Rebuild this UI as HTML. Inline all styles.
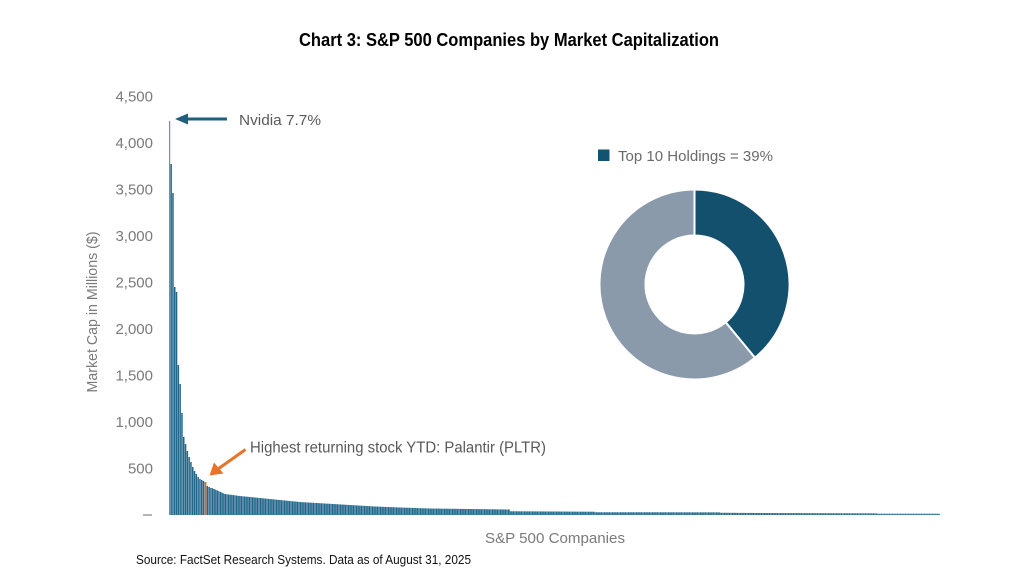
<!DOCTYPE html>
<html>
<head>
<meta charset="utf-8">
<style>
  html, body { margin:0; padding:0; background:#ffffff; }
  body { width:1024px; height:585px; overflow:hidden; }
  svg { display:block; }
  text { font-family: "Liberation Sans", "DejaVu Sans", sans-serif; }
</style>
</head>
<body>
<svg width="1024" height="585" viewBox="0 0 1024 585" xmlns="http://www.w3.org/2000/svg">
  <defs>
    <pattern id="stripes" patternUnits="userSpaceOnUse" x="212" y="0" width="1.6" height="10">
      <rect x="0" y="0" width="1.6" height="10" fill="#9fc2d4"/>
      <rect x="0" y="0" width="1.2" height="10" fill="#22668a"/>
    </pattern>
  </defs>

  <!-- Title -->
  <text x="299" y="46" font-size="18" font-weight="bold" fill="#000" textLength="420" lengthAdjust="spacingAndGlyphs">Chart 3: S&amp;P 500 Companies by Market Capitalization</text>

  <!-- Y tick labels -->
  <g font-size="15" fill="#7a7a7a" text-anchor="end">
    <text x="153" y="101.5">4,500</text>
    <text x="153" y="148">4,000</text>
    <text x="153" y="194.5">3,500</text>
    <text x="153" y="241">3,000</text>
    <text x="153" y="287.5">2,500</text>
    <text x="153" y="334">2,000</text>
    <text x="153" y="380.5">1,500</text>
    <text x="153" y="427">1,000</text>
    <text x="153" y="473.5">500</text>
  </g>
  <line x1="143" y1="515" x2="152" y2="515" stroke="#8a8a8a" stroke-width="1.3"/>

  <!-- Y axis title -->
  <text transform="translate(97,312) rotate(-90)" font-size="14.5" fill="#7a7a7a" text-anchor="middle" textLength="161" lengthAdjust="spacingAndGlyphs">Market Cap in Millions ($)</text>

  <!-- Leading bars -->
  <g fill="#22668a">
    <rect x="169" y="121" width="1.2" height="394" fill="#5f98b5"/>
    <rect x="170.4" y="164" width="1.5" height="351"/>
    <rect x="172.2" y="193" width="1.5" height="322"/>
    <rect x="174.0" y="287" width="1.5" height="228"/>
    <rect x="175.8" y="292" width="1.5" height="223"/>
    <rect x="177.6" y="365" width="1.5" height="150"/>
    <rect x="179.4" y="384" width="1.5" height="131"/>
    <rect x="181.2" y="413" width="1.5" height="102"/>
    <rect x="183.0" y="437" width="1.5" height="78"/>
    <rect x="184.8" y="444" width="1.5" height="71"/>
    <rect x="186.6" y="451" width="1.5" height="64"/>
    <rect x="188.4" y="457" width="1.5" height="58"/>
    <rect x="190.2" y="462" width="1.5" height="53"/>
    <rect x="192.0" y="467" width="1.5" height="48"/>
    <rect x="193.8" y="471" width="1.5" height="44"/>
    <rect x="195.6" y="474" width="1.5" height="41"/>
    <rect x="197.4" y="477" width="1.5" height="38"/>
    <rect x="199.2" y="479" width="1.5" height="36"/>
    <rect x="201.0" y="480" width="1.5" height="35"/>
    <rect x="202.8" y="481" width="1.5" height="34"/>
    <rect x="204.6" y="482" width="1.8" height="33" fill="#d9692a"/>
    <rect x="206.6" y="486" width="1.5" height="29"/>
    <rect x="208.4" y="487" width="1.5" height="28"/>
    <rect x="210.2" y="488" width="1.5" height="27"/>
  </g>

  <!-- Tail bars (envelope filled with stripes) -->
  <polygon fill="url(#stripes)" points="
    212,515 212,488 225,494 240,496 260,498 280,500 300,502 325,503.5 350,505 375,506.5 400,507.5 430,508.5 510,509.5
    510,511.2 595,511.8 595,512.2 720,512.4 720,512.8 877,513.4 877,513.7 940,513.8 940,515"/>

  <!-- Nvidia annotation -->
  <line x1="227" y1="119" x2="185" y2="119" stroke="#1f5f80" stroke-width="3"/>
  <polygon points="175,119 188,113.5 188,124.5" fill="#1f5f80"/>
  <text x="239" y="125" font-size="15" fill="#595959" textLength="82" lengthAdjust="spacingAndGlyphs">Nvidia 7.7%</text>

  <!-- Palantir annotation -->
  <line x1="245.5" y1="449.5" x2="218" y2="469" stroke="#e8742a" stroke-width="3"/>
  <polygon points="209.5,475.5 214,462.5 223.5,473.5" fill="#e8742a"/>
  <text x="250" y="452.5" font-size="15.5" fill="#595959" textLength="296" lengthAdjust="spacingAndGlyphs">Highest returning stock YTD: Palantir (PLTR)</text>

  <!-- X axis title -->
  <text x="485" y="543" font-size="15" fill="#7a7a7a" textLength="140" lengthAdjust="spacingAndGlyphs">S&amp;P 500 Companies</text>

  <!-- Legend -->
  <rect x="598" y="149.5" width="11.5" height="11.5" fill="#135270"/>
  <text x="618" y="161" font-size="14.5" fill="#6a6a6a" textLength="155" lengthAdjust="spacingAndGlyphs">Top 10 Holdings = 39%</text>

  <!-- Donut -->
  <path d="M 755.05 357.7 A 95 95 0 1 1 694.5 189.5 L 694.5 235.5 A 49 49 0 1 0 725.73 322.25 Z" fill="#8a9aab" stroke="#ffffff" stroke-width="2"/>
  <path d="M 694.5 189.5 A 95 95 0 0 1 755.05 357.7 L 725.73 322.25 A 49 49 0 0 0 694.5 235.5 Z" fill="#12506d" stroke="#ffffff" stroke-width="2"/>

  <!-- Source -->
  <text x="136" y="564" font-size="13" fill="#111" textLength="335" lengthAdjust="spacingAndGlyphs">Source: FactSet Research Systems.  Data as of August 31, 2025</text>
</svg>
</body>
</html>
